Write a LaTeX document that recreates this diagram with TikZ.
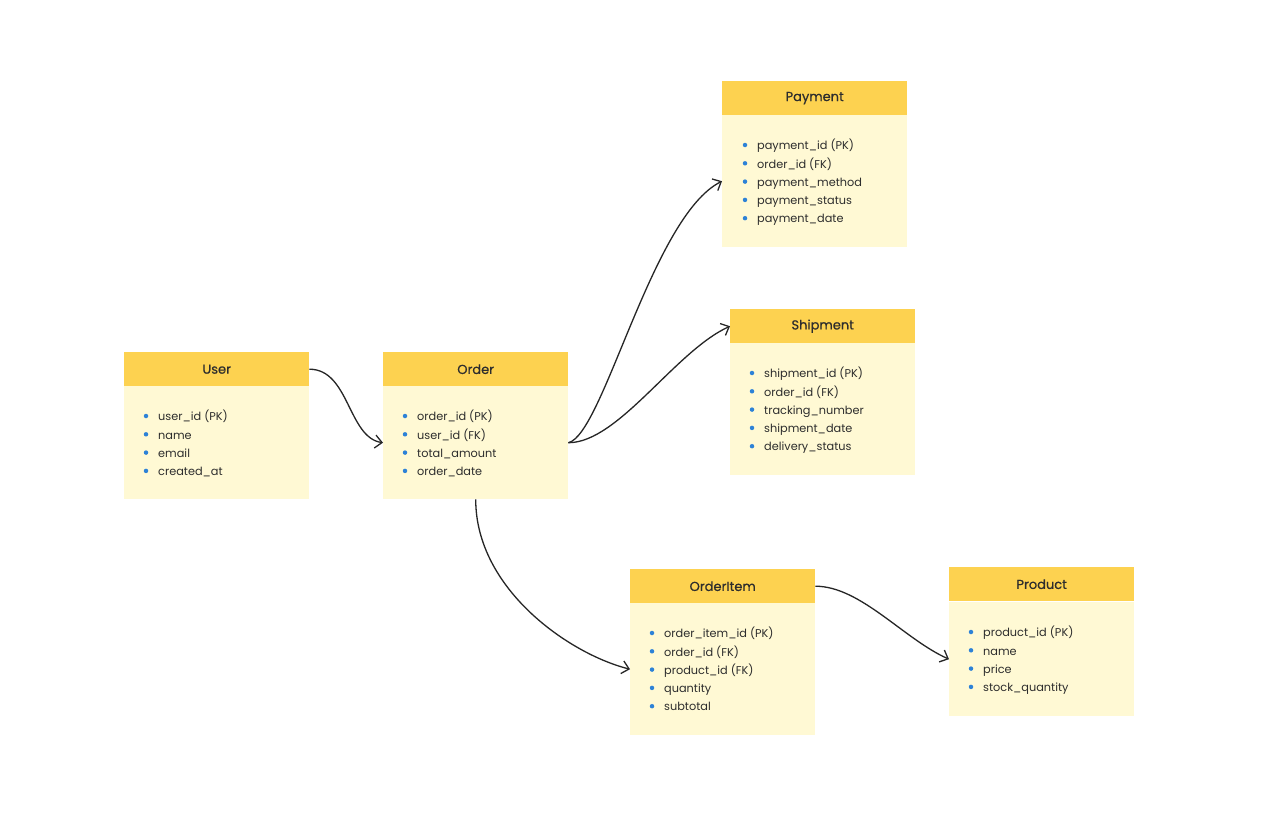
\documentclass[tikz,border=0pt]{standalone}
\usepackage{fontspec}
\setmainfont{Poppins}
\newfontfamily\popmed[FakeBold=0.6]{Poppins}
\usetikzlibrary{arrows.meta}
\definecolor{hdr}{RGB}{253,210,80}
\definecolor{bdy}{RGB}{255,249,212}
\definecolor{blt}{RGB}{45,130,215}
\definecolor{txt}{RGB}{45,45,45}
\tikzset{
 hdrbox/.style={rectangle, fill=hdr, minimum width=185pt, minimum height=34pt, anchor=north west, inner sep=0pt, font=\popmed\fontsize{13}{15}\selectfont, text=txt},
 bdybox/.style={rectangle, fill=bdy, minimum width=185pt, anchor=north west, inner sep=0pt},
 item/.style={anchor=west, inner sep=0pt, text height=8pt, text depth=2.5pt, font=\fontsize{11.3}{13}\selectfont, text=txt},
 bullet/.style={circle, fill=blt, inner sep=0pt, minimum size=4.5pt},
 conn/.style={draw=black!85, line width=1.3pt, -{Straight Barb[length=7pt,width=13pt]}}
}
\begin{document}
\begin{tikzpicture}[x=1pt,y=-1pt]
\useasboundingbox[fill=white] (0,0) rectangle (1280,816);
% User
\node[hdrbox] (userH) at (124,352) {User};
\node[bdybox, minimum height=113pt] (userB) at (124,386) {};
\foreach \t [count=\i] in {user\_id (PK), name, email, created\_at} {
  \node[bullet] (userD\i) at (146,{416+18.3*(\i-1)}) {};
  \node[item] (userI\i) at (158,{418+18.3*(\i-1)}) {\t};
}
% Order
\node[hdrbox] (orderH) at (383,352) {Order};
\node[bdybox, minimum height=113pt] (orderB) at (383,386) {};
\foreach \t [count=\i] in {order\_id (PK), user\_id (FK), total\_amount, order\_date} {
  \node[bullet] (orderD\i) at (405,{416+18.3*(\i-1)}) {};
  \node[item] (orderI\i) at (417,{418+18.3*(\i-1)}) {\t};
}
% Payment
\node[hdrbox] (payH) at (722,81) {Payment};
\node[bdybox, minimum height=132pt] (payB) at (722,115) {};
\foreach \t [count=\i] in {payment\_id (PK), order\_id (FK), payment\_method, payment\_status, payment\_date} {
  \node[bullet] (payD\i) at (745,{145+18.3*(\i-1)}) {};
  \node[item] (payI\i) at (757,{147+18.3*(\i-1)}) {\t};
}
% Shipment
\node[hdrbox] (shipH) at (730,309) {Shipment};
\node[bdybox, minimum height=132pt] (shipB) at (730,343) {};
\foreach \t [count=\i] in {shipment\_id (PK), order\_id (FK), tracking\_number, shipment\_date, delivery\_status} {
  \node[bullet] (shipD\i) at (752,{373+18.3*(\i-1)}) {};
  \node[item] (shipI\i) at (764,{375+18.3*(\i-1)}) {\t};
}
% OrderItem
\node[hdrbox] (oiH) at (630,569) {OrderItem};
\node[bdybox, minimum height=132pt] (oiB) at (630,603) {};
\foreach \t [count=\i] in {order\_item\_id (PK), order\_id (FK), product\_id (FK), quantity, subtotal} {
  \node[bullet] (oiD\i) at (652,{633+18.3*(\i-1)}) {};
  \node[item] (oiI\i) at (664,{635+18.3*(\i-1)}) {\t};
}
% Product
\node[hdrbox] (prodH) at (949,567) {Product};
\node[bdybox, minimum height=114pt] (prodB) at (949,602) {};
\foreach \t [count=\i] in {product\_id (PK), name, price, stock\_quantity} {
  \node[bullet] (prodD\i) at (971,{632+18.3*(\i-1)}) {};
  \node[item] (prodI\i) at (983,{634+18.3*(\i-1)}) {\t};
}
% connectors
\draw[conn] (userH.east) .. controls +(40,0) and +(-35,-5) .. (orderB.west);
\draw[conn] (orderB.east) .. controls +(35,-8) and +(-70,35) .. (payB.west);
\draw[conn] (orderB.east) .. controls +(50,0) and +(-55,25) .. (shipH.west);
\draw[conn] (orderB.south) .. controls +(0,90) and +(-60,-15) .. (oiB.west);
\draw[conn] (oiH.east) .. controls +(45,0) and +(-45,-20) .. (prodB.west);
\end{tikzpicture}
\end{document}
